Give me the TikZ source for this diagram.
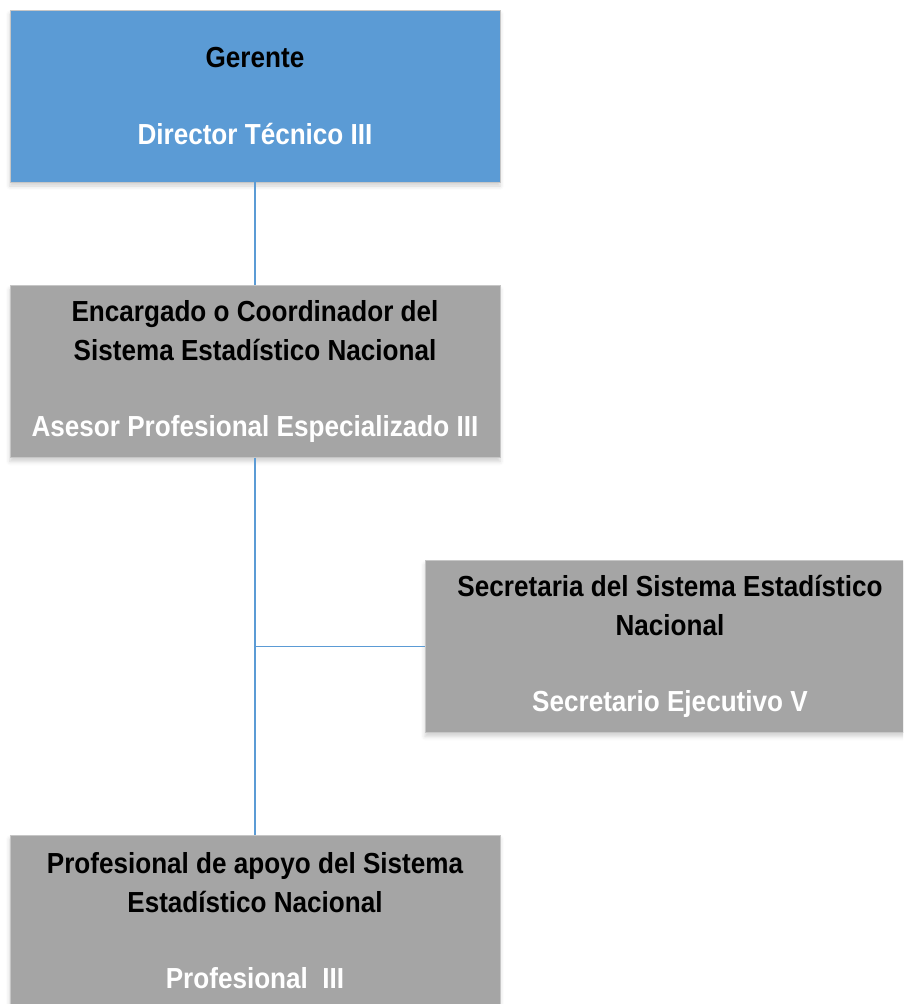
\documentclass[tikz,border=0pt]{standalone}
\usepackage{fontspec}
\setmainfont{Liberation Sans}[FakeStretch=0.9]
\usetikzlibrary{shadows.blur}
\definecolor{azul}{HTML}{5B9BD5}
\definecolor{gris}{HTML}{A5A5A5}
\newcommand{\titulo}[1]{{\color{black}#1}}
\newcommand{\cargo}[1]{{\color{white}#1}}
\begin{document}
\begin{tikzpicture}[x=1pt,y=-1pt,
  puesto/.style={draw=gray!45,line width=.8pt,minimum width=490pt,minimum height=172pt,inner sep=0pt,
    align=center,font=\fontsize{29}{38.5}\selectfont\bfseries,
    blur shadow={shadow xshift=0pt,shadow yshift=-4pt,shadow blur radius=4pt,shadow opacity=18}},
  linea/.style={azul,line width=1.8pt}]
 \useasboundingbox (0,0) rectangle (903,1004);
 \clip (0,0) rectangle (903,1004);
 \node[puesto,fill=azul] (gerente) at (255,96) {\titulo{Gerente}\\[38pt]\cargo{Director Técnico III}};
 \node[puesto,fill=gris] (coordinador) at (255,371.5) {\titulo{Encargado o Coordinador del}\\\titulo{Sistema Estadístico Nacional}\\[38pt]\cargo{Asesor Profesional Especializado III}};
 \node[puesto,fill=gris] (secretaria) at (670,646.5) {\titulo{Secretaria del Sistema Estadístico}\\\titulo{Nacional}\\[38pt]\cargo{Secretario Ejecutivo V}};
 \node[puesto,fill=gris] (apoyo) at (255,921) {\titulo{Profesional de apoyo del Sistema}\\\titulo{Estadístico Nacional}\\[38pt]\cargo{Profesional\ \ III}};
 \coordinate (rama) at (coordinador.south |- secretaria.west);
 \draw[linea] (gerente)--(coordinador);
 \draw[linea] (coordinador)--(apoyo);
 \draw[linea] (rama)--(secretaria);
\end{tikzpicture}
\end{document}
